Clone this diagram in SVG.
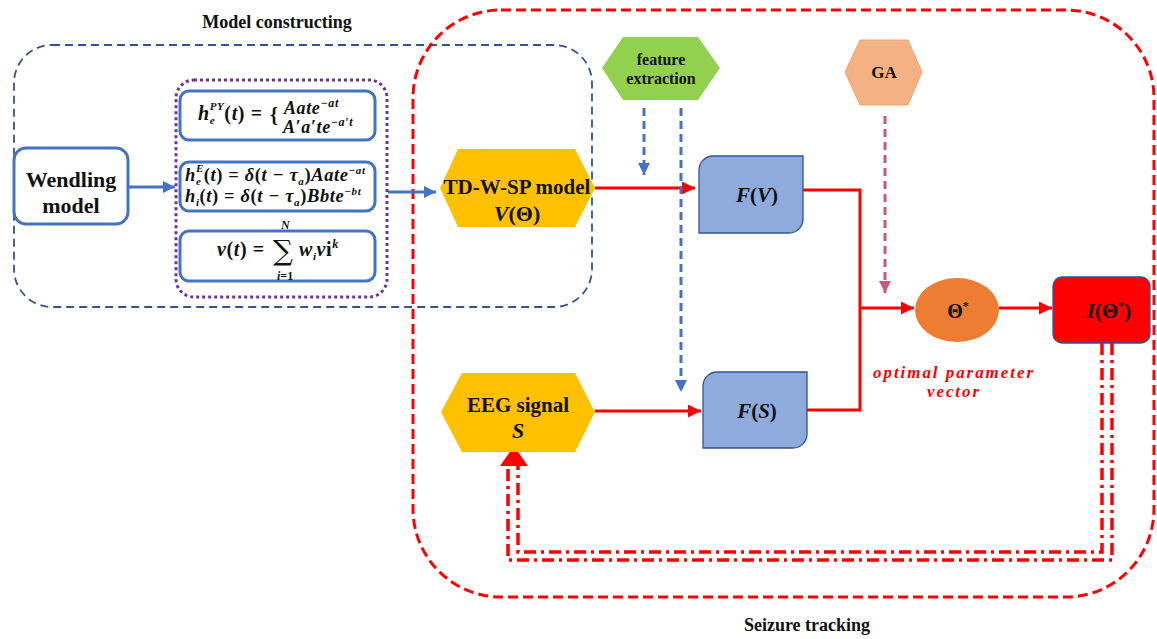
<svg xmlns="http://www.w3.org/2000/svg" width="1157" height="639" viewBox="0 0 1157 639">
<defs>
<style>
.lbl{font-weight:bold;fill:#111;}
.m{font-weight:bold;font-style:italic;fill:#111;}
.eq{letter-spacing:0.6px;}
.up{font-style:normal;}
.fbox{fill:#fff;stroke:#4472C4;stroke-width:3;}
.blue{stroke:#4472C4;stroke-width:3;fill:none;}
.red{stroke:#FF0000;stroke-width:3;fill:none;}
.bdash{stroke:#4472C4;stroke-width:3;fill:none;stroke-dasharray:8 5;}
.dd{stroke:#FF0000;stroke-width:3.5;fill:none;stroke-dasharray:12 5 3 5;}
.fx{fill:#8FAADC;stroke:#2F5597;stroke-width:1.3;}
</style>
<marker id="ab" viewBox="0 0 10 10" refX="10" refY="5" markerWidth="12" markerHeight="12" markerUnits="userSpaceOnUse" orient="auto"><path d="M0,0 L10,5 L0,10 Z" fill="#4472C4"/></marker>
<marker id="ar" viewBox="0 0 10 10" refX="10" refY="5" markerWidth="13" markerHeight="13" markerUnits="userSpaceOnUse" orient="auto"><path d="M0,0 L10,5 L0,10 Z" fill="#FF0000"/></marker>
<marker id="ap" viewBox="0 0 10 10" refX="10" refY="5" markerWidth="12" markerHeight="12" markerUnits="userSpaceOnUse" orient="auto"><path d="M0,0 L10,5 L0,10 Z" fill="#C55A7D"/></marker>
</defs>
<rect width="1157" height="639" fill="#fff"/>
<g font-family="Liberation Serif, DejaVu Serif, serif">

<g id="groups">
<rect id="model-constructing" x="14" y="45" width="578" height="262" rx="38" fill="none" stroke="#2F5597" stroke-width="1.8" stroke-dasharray="8 5"/>
<rect id="seizure-tracking" x="413" y="10" width="741" height="587" rx="88" fill="none" stroke="#FF0000" stroke-width="3" stroke-dasharray="10 5"/>
<text class="lbl" x="277" y="28" font-size="18" text-anchor="middle">Model constructing</text>
<text class="lbl" x="807" y="631" font-size="18" text-anchor="middle">Seizure tracking</text>
</g>

<g id="connectors">
<line class="blue" x1="128" y1="187" x2="175" y2="187" marker-end="url(#ab)"/>
<line class="blue" x1="388" y1="192" x2="436" y2="192" marker-end="url(#ab)"/>
<line class="red" x1="595" y1="188" x2="695" y2="188" marker-end="url(#ar)"/>
<line class="bdash" x1="644" y1="108" x2="644" y2="175" marker-end="url(#ab)"/>
<line class="bdash" x1="681" y1="108" x2="681" y2="392" marker-end="url(#ab)"/>
<line class="red" x1="595" y1="411" x2="701" y2="411" marker-end="url(#ar)"/>
<polyline class="red" points="803,190 860,190 860,410 807,410"/>
<line class="red" x1="860" y1="308" x2="914" y2="308" marker-end="url(#ar)"/>
<line class="red" x1="999" y1="308" x2="1052" y2="308" marker-end="url(#ar)"/>
<line x1="885" y1="116" x2="885" y2="293" stroke="#C55A7D" stroke-width="3" stroke-dasharray="8 5" marker-end="url(#ap)"/>
<polyline class="dd" points="1112,343 1112,560 508,560 508,466"/>
<polyline class="dd" points="1102,343 1102,552 518,552 518,466"/>
<path d="M514,446 L528,466 L500,466 Z" fill="#FF0000"/>
</g>

<g id="wendling">
<rect x="14" y="148" width="114" height="76" rx="12" fill="#fff" stroke="#4472C4" stroke-width="3"/>
<text class="lbl" x="71" y="187" font-size="22" text-anchor="middle">Wendling</text>
<text class="lbl" x="71" y="213" font-size="22" text-anchor="middle">model</text>
</g>

<g id="equations">
<rect x="176" y="80" width="211" height="217" rx="18" fill="none" stroke="#7030A0" stroke-width="3" stroke-dasharray="3 3"/>
<g id="eq1">
<rect class="fbox" x="180" y="91" width="195" height="49" rx="9"/>
<text class="m eq" x="198" y="120" font-size="20">h<tspan font-size="11" dy="4">e</tspan><tspan font-size="11" dx="-5.5" dy="-14">PY</tspan><tspan dy="10" class="up">(</tspan>t<tspan class="up">) = </tspan></text>
<text class="m" x="270" y="122" font-size="20"><tspan class="up">{</tspan></text>
<text class="m eq" x="284" y="114" font-size="18">Aate<tspan font-size="12" dy="-7">−at</tspan></text>
<text class="m eq" x="283" y="133" font-size="18">A′a′te<tspan font-size="12" dy="-7">−a′t</tspan></text>
</g>
<g id="eq2">
<rect class="fbox" x="180" y="162" width="195" height="49" rx="9"/>
<text class="m eq" x="185" y="181" font-size="18.5">h<tspan font-size="11" dy="4">e</tspan><tspan font-size="11" dx="-5.5" dy="-13">E</tspan><tspan dy="9" class="up">(</tspan>t<tspan class="up">) = </tspan>δ<tspan class="up">(</tspan>t − τ<tspan font-size="11" dy="4">a</tspan><tspan dy="-4" class="up">)</tspan>Aate<tspan font-size="11" dy="-7">−at</tspan></text>
<text class="m eq" x="185" y="202" font-size="18.5">h<tspan font-size="11" dy="4">i</tspan><tspan dy="-4" class="up">(</tspan>t<tspan class="up">) = </tspan>δ<tspan class="up">(</tspan>t − τ<tspan font-size="11" dy="4">a</tspan><tspan dy="-4" class="up">)</tspan>Bbte<tspan font-size="11" dy="-7">−bt</tspan></text>
</g>
<g id="eq3">
<rect class="fbox" x="180" y="231" width="195" height="50" rx="9"/>
<text class="m eq" x="217" y="256" font-size="20">v<tspan class="up">(</tspan>t<tspan class="up">) =</tspan></text>
<text x="273" y="260" font-family="DejaVu Serif, serif" font-size="28" fill="#111">∑</text>
<text class="m" x="281" y="229" font-size="12">N</text>
<text class="m" x="277" y="280" font-size="12">i<tspan class="up">=1</tspan></text>
<text class="m eq" x="299" y="256" font-size="20">w<tspan font-size="11" dy="4">i</tspan><tspan dy="-4">v</tspan><tspan class="up">i</tspan><tspan font-size="12" dy="-8">k</tspan></text>
</g>
</g>

<g id="td-w-sp">
<polygon points="440,188 458,149 575,149 595,188 575,227 458,227" fill="#FFC000"/>
<text class="lbl" x="517" y="194" font-size="21" text-anchor="middle">TD-W-SP model</text>
<text class="m" x="517" y="221" font-size="22" text-anchor="middle">V<tspan class="up">(Θ)</tspan></text>
</g>

<g id="eeg">
<polygon points="441,412 462,373 575,373 595,412 575,452 462,452" fill="#FFC000"/>
<text class="lbl" x="518" y="412" font-size="21" text-anchor="middle">EEG signal</text>
<text class="m" x="518" y="438" font-size="22" text-anchor="middle">S</text>
</g>

<g id="feature-extraction">
<polygon points="602,68 623,37 698,37 720,68 698,100 623,100" fill="#92D050"/>
<text class="lbl" x="661" y="65" font-size="16" text-anchor="middle">feature</text>
<text class="lbl" x="661" y="84" font-size="16" text-anchor="middle">extraction</text>
</g>

<g id="ga">
<polygon points="845,72 860,40 908,40 922,72 908,105 860,105" fill="#F4B183" stroke="#F4A36B" stroke-width="1"/>
<text class="lbl" x="884" y="78" font-size="17" text-anchor="middle">GA</text>
</g>

<g id="fv">
<path class="fx" d="M699,233 L699,170 A14,14 0 0 1 713,156 L803,156 L803,219 A14,14 0 0 1 789,233 Z"/>
<text class="m" x="757" y="202" font-size="21" text-anchor="middle">F<tspan class="up">(</tspan>V<tspan class="up">)</tspan></text>
</g>

<g id="fs">
<path class="fx" d="M703,448 L703,386 A14,14 0 0 1 717,372 L807,372 L807,434 A14,14 0 0 1 793,448 Z"/>
<text class="m" x="757" y="418" font-size="21" text-anchor="middle">F<tspan class="up">(</tspan>S<tspan class="up">)</tspan></text>
</g>

<g id="theta">
<ellipse cx="957" cy="310" rx="42" ry="32" fill="#ED7D31"/>
<text class="lbl" x="958" y="318" font-size="20" text-anchor="middle">Θ<tspan font-size="12" dy="-8">*</tspan></text>
</g>

<g id="i-theta">
<rect x="1053" y="277" width="97" height="66" rx="9" fill="#FF0000" stroke="#2F5597" stroke-width="1.3"/>
<text class="m" x="1109" y="318" font-size="21" text-anchor="middle">I<tspan class="up">(Θ</tspan><tspan class="up" font-size="12" dy="-8">*</tspan><tspan class="up" dy="8">)</tspan></text>
</g>

<g id="opt-label">
<text class="m" x="953" y="378" font-size="17" style="fill:#FF0000" text-anchor="middle" textLength="160">optimal parameter</text>
<text class="m" x="953" y="397" font-size="17" style="fill:#FF0000" text-anchor="middle" textLength="52">vector</text>
</g>
</g>
</svg>
